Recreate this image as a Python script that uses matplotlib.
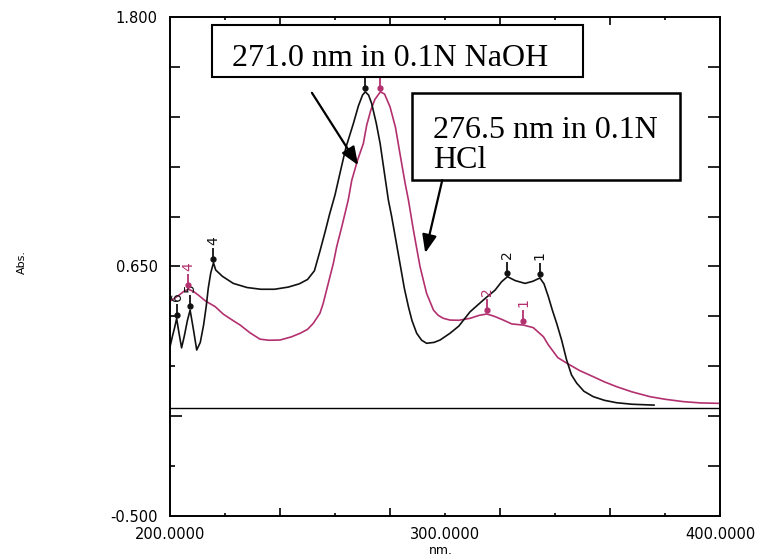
# -*- coding: utf-8 -*-
'''
UV spectra of the sample in 0.1N NaOH and in 0.1N HCl
(Abs. against wavelength, peak picks numbered on the curves)
'''

import matplotlib
matplotlib.use('Agg')
import matplotlib.pyplot as plt
from matplotlib.patches import Rectangle
from matplotlib.transforms import offset_copy

#==============================================================================
# Data
#==============================================================================
wl_naoh = [200.0, 200.9, 201.7, 202.4, 203.3, 204.2, 205.2, 206.3, 207.3,
           208.5, 209.7, 211.0, 212.2, 213.2, 213.9, 214.8, 215.8, 216.6,
           219.0, 223.0, 228.0, 233.0, 238.0, 243.0, 247.0, 250.0, 252.5,
           254.5, 256.4, 258.0, 260.0, 261.8, 264.0, 266.7, 268.5, 270.0,
           271.0, 272.2, 273.3, 275.0, 276.4, 278.2, 279.4, 280.6, 282.0,
           283.6, 285.2, 286.7, 288.0, 289.7, 291.5, 293.3, 296.0, 298.2,
           301.8, 305.0, 309.1, 313.9, 318.2, 320.6, 322.7, 325.5, 329.1,
           332.0, 334.5, 336.0, 337.6, 339.0, 340.6, 342.4, 344.2, 346.0,
           347.9, 350.5, 353.9, 358.0, 362.4, 368.0, 376.0]
abs_naoh = [0.28, 0.33, 0.37, 0.41, 0.34, 0.275, 0.33, 0.40, 0.449,
            0.36, 0.265, 0.30, 0.38, 0.47, 0.55, 0.62, 0.667, 0.634,
            0.605, 0.572, 0.553, 0.545, 0.545, 0.555, 0.57, 0.59, 0.63,
            0.72, 0.81, 0.89, 0.98, 1.08, 1.20, 1.31, 1.39, 1.44,
            1.455, 1.44, 1.402, 1.31, 1.217, 1.06, 0.956, 0.88, 0.78,
            0.665, 0.55, 0.464, 0.40, 0.342, 0.31, 0.296, 0.30, 0.311,
            0.342, 0.375, 0.441, 0.495, 0.541, 0.58, 0.603, 0.585, 0.572,
            0.582, 0.597, 0.57, 0.51, 0.45, 0.388, 0.311, 0.22, 0.15,
            0.112, 0.075, 0.05, 0.033, 0.022, 0.015, 0.011]

wl_hcl = [200.0, 201.8, 203.5, 205.0, 206.7, 208.5, 210.3, 213.0, 216.4,
          219.4, 223.0, 225.5, 229.0, 232.7, 236.0, 240.0, 244.0, 247.3,
          250.0, 252.1, 254.5, 255.7, 257.5, 259.4, 260.6, 262.4, 264.8,
          266.1, 268.2, 270.3, 271.5, 273.0, 274.5, 276.5, 278.0, 280.0,
          282.0, 283.6, 285.5, 286.7, 288.5, 290.9, 293.3, 295.8, 297.5,
          299.4, 301.8, 305.0, 309.1, 312.5, 315.2, 318.0, 321.2, 324.3,
          328.5, 332.1, 335.8, 337.5, 341.0, 344.2, 349.0, 353.9, 358.0,
          362.4, 368.0, 374.5, 380.0, 386.7, 393.0, 400.0]
abs_hcl = [0.49, 0.505, 0.52, 0.535, 0.545, 0.535, 0.518, 0.49, 0.465,
           0.43, 0.40, 0.38, 0.345, 0.315, 0.31, 0.311, 0.325, 0.342,
           0.36, 0.388, 0.434, 0.48, 0.57, 0.665, 0.741, 0.83, 0.956,
           1.048, 1.14, 1.217, 1.30, 1.37, 1.42, 1.455, 1.445, 1.386,
           1.29, 1.171, 1.033, 0.956, 0.818, 0.65, 0.526, 0.449, 0.425,
           0.411, 0.403, 0.402, 0.411, 0.425, 0.431, 0.42, 0.403, 0.385,
           0.38, 0.368, 0.326, 0.29, 0.23, 0.205, 0.17, 0.142, 0.118,
           0.096, 0.072, 0.05, 0.038, 0.027, 0.021, 0.019]

# peak picks (numbered as printed; no. 3 sits under the note boxes)
pk_wl_naoh = [334.5, 322.7, 271.0, 215.8, 207.3, 202.4]
pk_abs_naoh = [0.597, 0.603, 1.455, 0.667, 0.449, 0.41]
pk_lab_naoh = ['1', '2', '', '4', '5', '6']

pk_wl_hcl = [328.5, 315.2, 276.5, 206.7]
pk_abs_hcl = [0.38, 0.431, 1.455, 0.545]
pk_lab_hcl = ['1', '2', '', '4']

x_ticks = [200, 220, 240, 260, 280, 300, 320, 340, 360, 380, 400]
x_tick_labels = ['200.0000', '', '', '', '', '300.0000',
                 '', '', '', '', '400.0000']
y_ticks = [-0.5, -0.27, -0.04, 0.19, 0.42, 0.65, 0.88, 1.11, 1.34, 1.57, 1.8]
y_tick_labels = ['-0.500', '', '', '', '', '0.650', '', '', '', '', '1.800']

note_naoh = '271.0 nm in 0.1N NaOH'
note_hcl = '276.5 nm in 0.1N\nHCl'

col_naoh = '#111111'
col_hcl = '#b3306f'

#==============================================================================
# Plot
#==============================================================================


def mark_peaks(fig, ax, wl, ab, labels, color):
    ''' dot + short stem above each pick, number rotated on top '''
    dot_tr = offset_copy(ax.transData, fig=fig, x=0, y=4, units='dots')
    stem_tr = offset_copy(ax.transData, fig=fig, x=0, y=10, units='dots')
    lab_tr = offset_copy(ax.transData, fig=fig, x=0, y=18, units='dots')
    ax.plot(wl, ab, ls='none', marker='o', ms=3.5, color=color,
            transform=dot_tr, zorder=3)
    ax.plot(wl, ab, ls='none', marker='|', ms=7.5, mew=1.3, color=color,
            transform=stem_tr, zorder=3)
    for x, y, lab in zip(wl, ab, labels):
        if not lab:
            continue
        ax.text(x, y, lab, transform=lab_tr, rotation=90, ha='center',
                va='bottom', fontsize=10, color=color,
                family='DejaVu Sans', zorder=3)


fig = plt.figure(figsize=(7.68, 5.58), dpi=100)
ax = fig.add_axes([0.2214, 0.0753, 0.7161, 0.8943])

ax.plot(wl_hcl, abs_hcl, color=col_hcl, lw=1.2, zorder=2)
ax.plot(wl_naoh, abs_naoh, color=col_naoh, lw=1.2, zorder=2)
ax.axhline(0.0, color='black', lw=1.0, zorder=1)

mark_peaks(fig, ax, pk_wl_naoh, pk_abs_naoh, pk_lab_naoh, col_naoh)
mark_peaks(fig, ax, pk_wl_hcl, pk_abs_hcl, pk_lab_hcl, col_hcl)

ax.set_xlim(200, 400)
ax.set_ylim(-0.5, 1.8)
ax.set_xticks(x_ticks)
ax.set_xticklabels(x_tick_labels)
ax.set_yticks(y_ticks)
ax.set_yticklabels(y_tick_labels)
ax.tick_params(direction='in', top=True, right=True, width=1.2,
               labelsize=10.5, colors='black')
ax.tick_params(axis='x', pad=8)
ax.tick_params(axis='y', pad=9)
for lab in ax.get_xticklabels() + ax.get_yticklabels():
    lab.set_family('DejaVu Sans')

# instrument style: long and short ticks mixed
x_len = [0, 2.2, 5.8, 2.2, 5.8, 2.2, 5.8, 2.2, 5.8, 2.2, 0]
for tick, L in zip(ax.xaxis.get_major_ticks(), x_len):
    tick.tick1line.set_markersize(L)
    tick.tick2line.set_markersize(L)
y_len_left = [0, 3.6, 8.5, 3.6, 7.2, 7.2, 7.2, 7.2, 7.2, 7.2, 0]
for tick, L in zip(ax.yaxis.get_major_ticks(), y_len_left):
    tick.tick1line.set_markersize(L)
    tick.tick2line.set_markersize(8.5 if L else 0)

for sp in ax.spines.values():
    sp.set_linewidth(1.4)

fig.text(22 / 768, 1 - 262 / 558, 'Abs.', rotation=90, ha='center',
         va='center', fontsize=8, family='DejaVu Sans')
fig.text(441 / 768, 1 - 551 / 558, 'nm.', ha='center', va='center',
         fontsize=9, family='DejaVu Sans')

# note boxes (axes fraction)
ax.add_patch(Rectangle((0.076, 0.880), 0.675, 0.104, transform=ax.transAxes,
                       facecolor='white', edgecolor='black', lw=1.5,
                       zorder=5))
ax.text(0.113, 0.902, note_naoh, transform=ax.transAxes, ha='left',
        va='baseline', fontsize=23, family='Liberation Serif', zorder=6)

ax.add_patch(Rectangle((0.440, 0.673), 0.487, 0.175, transform=ax.transAxes,
                       facecolor='white', edgecolor='black', lw=1.8,
                       zorder=5))
ax.text(0.478, 0.697, note_hcl, transform=ax.transAxes, ha='left',
        va='baseline', fontsize=23, family='Liberation Serif',
        linespacing=1.05, zorder=6)

arrow_style = dict(arrowstyle='-|>,head_length=0.55,head_width=0.22',
                   mutation_scale=20, lw=1.6, color='black',
                   shrinkA=0, shrinkB=0)
ax.annotate('', xy=(0.342, 0.703), xytext=(0.258, 0.848),
            xycoords='axes fraction', arrowprops=arrow_style, zorder=7)
ax.annotate('', xy=(0.464, 0.527), xytext=(0.495, 0.673),
            xycoords='axes fraction', arrowprops=arrow_style, zorder=7)

fig.savefig('out.png', dpi=100, facecolor='white')
